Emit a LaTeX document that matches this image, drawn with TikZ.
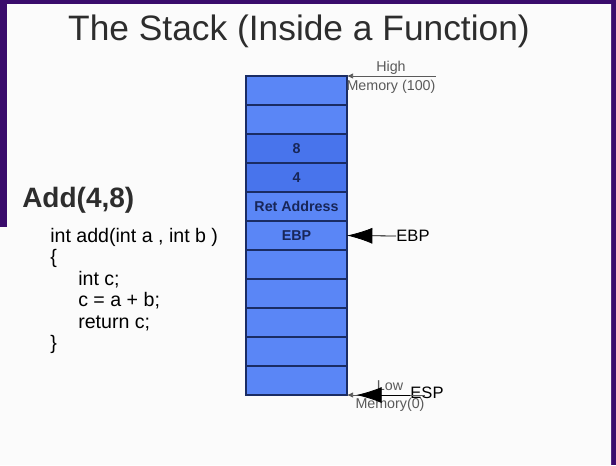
\documentclass[tikz,border=0pt]{standalone}
\usepackage{fontspec}
\setmainfont{Liberation Sans}
\usetikzlibrary{positioning, arrows.meta}
\definecolor{slidebg}{RGB}{58, 12, 108}
\definecolor{paper}{RGB}{251, 251, 251}
\definecolor{cellfill}{RGB}{90, 134, 246}
\definecolor{celldark}{RGB}{72, 116, 236}
\definecolor{cellline}{RGB}{26, 44, 100}
\definecolor{celltext}{RGB}{24, 38, 88}
\definecolor{headtext}{RGB}{45, 45, 45}
\definecolor{memtext}{RGB}{90, 90, 90}

\begin{document}
\begin{tikzpicture}[
    x=0.75pt, y=-0.75pt,
    cell/.style={
        draw=cellline,
        line width=0.8pt,
        fill=#1,
        minimum width=75.75pt,
        minimum height=21.75pt,
        inner sep=0pt,
        outer sep=0pt,
        font=\bfseries\fontsize{10.7}{12}\selectfont,
        text=celltext
    },
    cell/.default=cellfill,
    memlbl/.style={font=\fontsize{10.7}{12}\selectfont, text=memtext, align=center, inner sep=0pt},
    reglbl/.style={font=\fontsize{12.4}{14}\selectfont, text=black, inner sep=0pt},
    memarrow/.style={-{Latex[length=4.5pt, width=4pt]}, draw=memtext, line width=0.5pt},
    regarrow/.style={-{Latex[length=19pt, width=12pt]}, draw=black, line width=0.6pt}
]

% === Slide background ===
\fill[slidebg] (0,0) rectangle (616,465);
\fill[paper] (7,4) -- (611,4) -- (611,465) -- (0,465) -- (0,227) -- (7,227) -- cycle;

% === Title and code ===
\node[anchor=base, inner sep=0pt, text=headtext, font=\fontsize{26.5}{30}\selectfont] (title) at (299,40) {The Stack (Inside a Function)};
\node[anchor=base west, inner sep=0pt, text=headtext, font=\bfseries\fontsize{21}{24}\selectfont] (call) at (22,207) {Add(4,8)};
\node[anchor=north west, inner sep=0pt, align=left, text=black, font=\fontsize{14.7}{16.1}\selectfont] (code) at (50,228) {
int add(int a , int b )\\
\{\\
\hspace*{21pt}int c;\\
\hspace*{21pt}c = a + b;\\
\hspace*{21pt}return c;\\
\}
};

% === Stack cells ===
\node[cell] (c1) at (296.5,90.5) {};
\node[cell, below=0pt of c1] (c2) {};
\node[cell=celldark, below=0pt of c2] (c3) {8};
\node[cell=celldark, below=0pt of c3] (c4) {4};
\node[cell, below=0pt of c4] (c5) {Ret Address};
\node[cell, below=0pt of c5] (c6) {EBP};
\node[cell, below=0pt of c6] (c7) {};
\node[cell, below=0pt of c7] (c8) {};
\node[cell, below=0pt of c8] (c9) {};
\node[cell, below=0pt of c9] (c10) {};
\node[cell, below=0pt of c10] (c11) {};

% === Labels ===
\node[memlbl] (himem) at (391,77) {High\\[2pt]Memory (100)};
\node[memlbl] (lomem) at (390,396) {Low\\[2pt]Memory(0)};
\node[reglbl] (ebplbl) at (413,236) {EBP};
\node[reglbl] (esplbl) at (427,393) {ESP};

% === Arrows ===
\draw[memarrow] (himem.east |- c1.north east) -- (c1.north east);
\draw[memarrow] (lomem.east |- c11.south east) -- (c11.south east);
\draw[regarrow] (ebplbl.west) -- (c6.east);
\draw[regarrow, shorten >=7pt] (esplbl.west |- c11.south east) -- (c11.south east);

\end{tikzpicture}
\end{document}
